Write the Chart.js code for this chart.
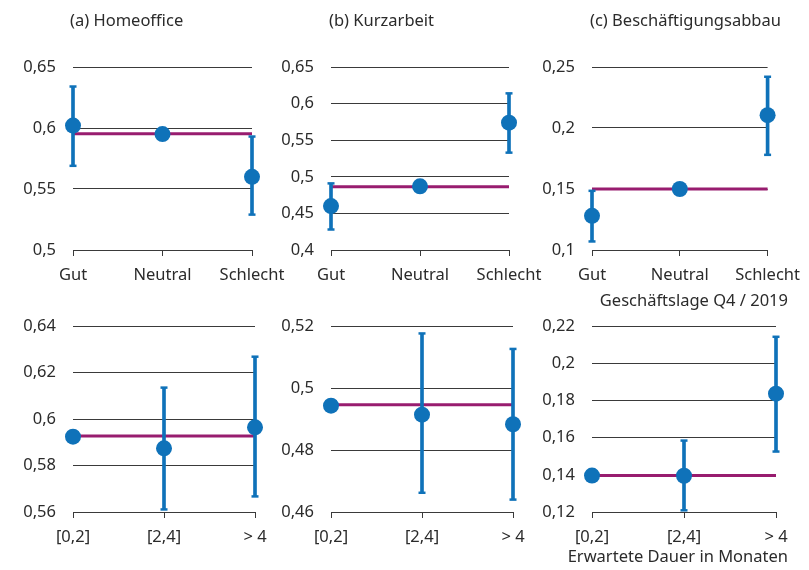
<!DOCTYPE html>
<html><head><meta charset="utf-8">
<script src="https://cdn.jsdelivr.net/npm/chart.js@4.4.0/dist/chart.umd.min.js"></script>
<style>
html,body{margin:0;padding:0;background:#fff;}
#wrap{position:relative;width:809px;height:570px;overflow:hidden;font-family:"Noto Sans",sans-serif;color:#2b2b2b;}
canvas{position:absolute;left:0;top:0;}
.t{position:absolute;font-size:16.5px;line-height:20px;white-space:nowrap;}
.r{text-align:right;}
</style></head><body>
<div id="wrap">
<canvas id="c1" width="809" height="570"></canvas>
<canvas id="c2" width="809" height="570"></canvas>
<canvas id="c3" width="809" height="570"></canvas>
<canvas id="c4" width="809" height="570"></canvas>
<canvas id="c5" width="809" height="570"></canvas>
<canvas id="c6" width="809" height="570"></canvas>
<div class="t" style="left:70px;top:10px">(a) Homeoffice</div>
<div class="t" style="left:329px;top:10px">(b) Kurzarbeit</div>
<div class="t" style="left:590px;top:10px">(c) Beschäftigungsabbau</div>
<div class="t r" style="right:21px;top:290px">Geschäftslage Q4 / 2019</div>
<div class="t r" style="right:21px;top:546px">Erwartete Dauer in Monaten</div>
</div>
<script>
// ---- categories ----
const lageLabels = ['Gut', 'Neutral', 'Schlecht'];
const dauerLabels = ['[0,2]', '[2,4]', '> 4'];

// ---- (a) Homeoffice ----
const homeLage = [0.602, 0.595, 0.560];
const homeLageLo = [0.569, null, 0.529];
const homeLageHi = [0.634, null, 0.593];
const homeLageMean = 0.5953;
const homeLageTicks = [0.5, 0.55, 0.6, 0.65];

const homeDauer = [0.5924, 0.5874, 0.5964];
const homeDauerLo = [null, 0.5611, 0.5667];
const homeDauerHi = [null, 0.6135, 0.6268];
const homeDauerMean = 0.5927;
const homeDauerTicks = [0.56, 0.58, 0.6, 0.62, 0.64];

// ---- (b) Kurzarbeit ----
const kurzLage = [0.460, 0.487, 0.574];
const kurzLageLo = [0.428, null, 0.533];
const kurzLageHi = [0.491, null, 0.614];
const kurzLageMean = 0.4863;
const kurzLageTicks = [0.4, 0.45, 0.5, 0.55, 0.6, 0.65];

const kurzDauer = [0.4943, 0.4914, 0.4883];
const kurzDauerLo = [null, 0.4662, 0.4640];
const kurzDauerHi = [null, 0.5176, 0.5126];
const kurzDauerMean = 0.4946;
const kurzDauerTicks = [0.46, 0.48, 0.5, 0.52];

// ---- (c) Beschäftigungsabbau ----
const abbauLage = [0.128, 0.150, 0.2105];
const abbauLageLo = [0.107, null, 0.178];
const abbauLageHi = [0.1485, null, 0.242];
const abbauLageMean = 0.1499;
const abbauLageTicks = [0.1, 0.15, 0.2, 0.25];

const abbauDauer = [0.1396, 0.1395, 0.1836];
const abbauDauerLo = [null, 0.1209, 0.1525];
const abbauDauerHi = [null, 0.1584, 0.2142];
const abbauDauerMean = 0.1396;
const abbauDauerTicks = [0.12, 0.14, 0.16, 0.18, 0.2, 0.22];

// ---- styling ----
const BLUE = '#0f72b9';
const PURPLE = '#981c6f';
const GRID = '#3a3a3a';
const TEXT = '#2b2b2b';
const FONT = {family: '"Noto Sans", sans-serif', size: 16.5};
const YW = 60, XH = 40;

function fmt(v) { return String(Math.round(v * 1000) / 1000).replace('.', ','); }

function makeChart(id, area, labels, vals, lo, hi, mean, ticks) {
  const errData = lo.map((l, i) => (l == null ? null : [l, hi[i]]));
  new Chart(document.getElementById(id), {
    type: 'line',
    data: {
      labels: labels,
      datasets: [
        {type: 'line', data: vals, showLine: false, pointRadius: 8, pointHoverRadius: 8,
         pointBackgroundColor: BLUE, pointBorderWidth: 0, borderColor: BLUE, clip: false},
        {type: 'line', data: lo, showLine: false, pointStyle: 'line', pointRadius: 3.5,
         pointBorderWidth: 2.5, pointBorderColor: BLUE, borderColor: BLUE, clip: false},
        {type: 'line', data: hi, showLine: false, pointStyle: 'line', pointRadius: 3.5,
         pointBorderWidth: 2.5, pointBorderColor: BLUE, borderColor: BLUE, clip: false},
        {type: 'bar', data: errData, backgroundColor: BLUE, barThickness: 3, borderWidth: 0, clip: false},
        {type: 'line', data: labels.map(() => mean), borderColor: PURPLE, borderWidth: 3,
         pointRadius: 0, fill: false, clip: false}
      ]
    },
    options: {
      responsive: false,
      animation: false,
      devicePixelRatio: 1,
      events: [],
      layout: {
        autoPadding: false,
        padding: {left: area.L - YW, right: 809 - area.R, top: area.T, bottom: 570 - area.B - XH}
      },
      plugins: {legend: {display: false}, tooltip: {enabled: false}, title: {display: false}},
      scales: {
        x: {
          type: 'category', offset: false,
          grid: {display: true, drawOnChartArea: false, drawTicks: true, tickLength: 6, color: GRID, offset: false},
          border: {display: true, color: GRID, width: 1},
          ticks: {font: FONT, color: TEXT, padding: 9, maxRotation: 0, autoSkip: false},
          afterFit: s => { s.height = XH; }
        },
        y: {
          min: ticks[0], max: ticks[ticks.length - 1],
          grid: {color: GRID, lineWidth: 1, drawTicks: false},
          border: {display: false},
          ticks: {font: FONT, color: TEXT, padding: 17, callback: v => fmt(v)},
          afterBuildTicks: s => { s.ticks = ticks.map(v => ({value: v})); },
          afterFit: s => { s.width = YW; }
        }
      }
    }
  });
}

makeChart('c1', {L: 73, R: 252, T: 67, B: 250}, lageLabels, homeLage, homeLageLo, homeLageHi, homeLageMean, homeLageTicks);
makeChart('c2', {L: 331, R: 509, T: 67, B: 250}, lageLabels, kurzLage, kurzLageLo, kurzLageHi, kurzLageMean, kurzLageTicks);
makeChart('c3', {L: 592, R: 772, T: 67, B: 250}, lageLabels, abbauLage, abbauLageLo, abbauLageHi, abbauLageMean, abbauLageTicks);
makeChart('c4', {L: 73, R: 255, T: 326, B: 512}, dauerLabels, homeDauer, homeDauerLo, homeDauerHi, homeDauerMean, homeDauerTicks);
makeChart('c5', {L: 331, R: 513, T: 326, B: 512}, dauerLabels, kurzDauer, kurzDauerLo, kurzDauerHi, kurzDauerMean, kurzDauerTicks);
makeChart('c6', {L: 592, R: 776, T: 326, B: 512}, dauerLabels, abbauDauer, abbauDauerLo, abbauDauerHi, abbauDauerMean, abbauDauerTicks);
</script>
</body></html>
